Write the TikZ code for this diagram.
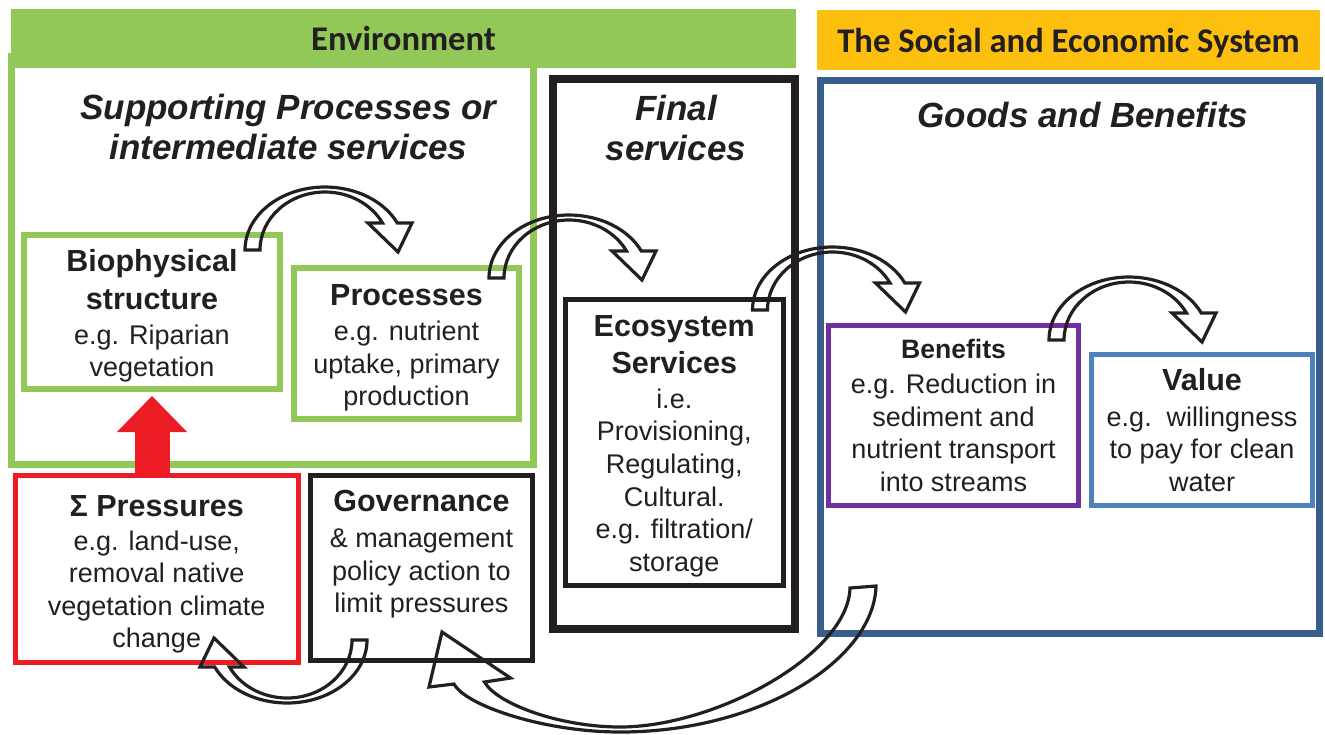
\documentclass[tikz,border=0pt]{standalone}
\usepackage{fontspec}
\setmainfont{Liberation Sans}
\newfontfamily\hdrfont{Carlito}
\usetikzlibrary{arrows.meta}

\definecolor{envgreen}{RGB}{146,200,88}
\definecolor{socyellow}{RGB}{253,192,15}
\definecolor{goodsblue}{RGB}{58,94,140}
\definecolor{presred}{RGB}{237,28,36}
\definecolor{benpurple}{RGB}{112,48,160}
\definecolor{valblue}{RGB}{79,129,189}
\definecolor{ink}{RGB}{35,31,32}

\newcommand{\hd}[1]{{\fontsize{15.25}{16.2}\selectfont\bfseries #1}}
\newcommand{\hs}[1]{{\fontsize{13.3}{16.2}\selectfont\bfseries #1}}

\tikzset{
  outerframe/.style={draw, outer sep=0pt, inner sep=0pt},
  box/.style={draw, outer sep=0pt, inner sep=0pt, align=center, text=ink,
    font=\fontsize{13.5}{16.3}\selectfont},
  areatitle/.style={align=center, inner sep=0pt, text=ink,
    font=\fontsize{17.5}{19.7}\selectfont\bfseries\itshape},
  hdr/.style={inner sep=0pt, outer sep=0pt, text depth=0pt, text=ink,
    font=\hdrfont\fontsize{17.3}{20}\selectfont\bfseries},
  hollow/.style={draw=ink, line width=1.6pt, line join=miter},
  bendarrow/.pic={
    \draw[hollow] (7.5,0) -- (-7.5,0)
      .. controls (-7.5,-34.8) and (28.3,-63) .. (72.5,-63)
      .. controls (103.4,-63) and (131.6,-49) .. (144.8,-27)
      -- (159.5,-27) -- (145.5,2) -- (115.5,-27) -- (130,-27)
      .. controls (118.8,-46) and (96.6,-58) .. (72.5,-58)
      .. controls (36.6,-58) and (7.5,-32) .. (7.5,0) -- cycle;
  },
  backarrow/.pic={
    \draw[hollow] (-13,1) -- (13,-1)
      .. controls (11,73) and (-103,145) .. (-243,145)
      .. controls (-318,145) and (-397,119) .. (-409,97)
      -- (-434,100) -- (-421,45) -- (-352.5,91) -- (-378.5,95)
      .. controls (-366,117) and (-303,140) .. (-243,140)
      .. controls (-148,140) and (-15,68) .. (-13,1) -- cycle;
  }
}

\begin{document}
\begin{tikzpicture}[x=0.5pt, y=-0.5pt]
  \useasboundingbox (0,0) rectangle (1325,734);

  % Rahmen
  \node[outerframe, draw=envgreen, line width=3.5pt, minimum width=261pt, minimum height=204pt] (env) at (272.5,260.5) {};
  \node[hdr, fill=envgreen, minimum width=392.5pt, minimum height=29.5pt] (envhdr) at (403.5,38.5) {Environment};
  \node[outerframe, draw=ink, line width=4pt, minimum width=121pt, minimum height=275pt] (fin) at (674,354) {};
  \node[hdr, fill=socyellow, minimum width=251.5pt, minimum height=30pt] (sochdr) at (1068.5,40) {The Social and Economic System};
  \node[outerframe, draw=goodsblue, line width=3.5pt, minimum width=249.5pt, minimum height=276.5pt] (goods) at (1069.5,356.5) {};

  % Titel
  \node[areatitle] (suptitle) at (288.5,127) {Supporting Processes or\\intermediate services};
  \node[areatitle] (fintitle) at (676,128) {Final\\services};
  \node[areatitle, anchor=base] (goodstitle) at (1083,127) {Goods and Benefits};

  % Kaesten
  \node[box, draw=envgreen, line width=2.75pt, minimum width=128pt, minimum height=77pt] (bio) at (152,312)
    {\rule{0pt}{15pt}\hd{Biophysical}\\[2.5pt]\hd{structure}\\[1pt]e.g. Riparian\\vegetation};
  \node[box, draw=envgreen, line width=2.75pt, minimum width=112.5pt, minimum height=75.5pt] (proc) at (406.5,343.5)
    {\rule{0pt}{15pt}\hd{Processes}\\[1pt]e.g. nutrient\\uptake, primary\\production};
  \node[box, draw=presred, line width=2.5pt, minimum width=141.75pt, minimum height=93.5pt] (pres) at (156.75,569)
    {\rule{0pt}{16pt}\hd{Σ Pressures}\\[0.5pt]e.g. land-use,\\removal native\\vegetation climate\\change};
  \node[box, draw=ink, line width=2.25pt, minimum width=111pt, minimum height=92.5pt] (gov) at (421.5,568)
    {\hd{Governance}\\[1.5pt]\& management\\policy action to\\limit pressures\\ \mbox{}};
  \node[box, draw=ink, line width=2.5pt, minimum width=109.25pt, minimum height=143pt] (eco) at (674.25,442.5)
    {\rule{0pt}{14pt}\hd{Ecosystem}\\[2.5pt]\hd{Services}\\[1pt]i.e.\\Provisioning,\\Regulating,\\Cultural.\\e.g. filtration/\\storage};
  \node[box, draw=benpurple, line width=2.5pt, minimum width=125pt, minimum height=90pt] (ben) at (953.5,415.5)
    {\hs{Benefits}\\[1pt]e.g. Reduction in\\sediment and\\nutrient transport\\into streams};
  \node[box, draw=valblue, line width=2.5pt, minimum width=110.5pt, minimum height=75.5pt] (val) at (1202,430)
    {\hd{Value}\\[1.5pt]e.g.\ \ willingness\\to pay for clean\\water};

  % Pfeile
  \draw[presred, line width=17.5pt, -{Triangle[width=35pt, length=18pt, line width=0pt]}]
    (bio.south |- pres.north) -- ([yshift=-3.5pt]bio.south);
  \pic at ([shift={(-27.5,15)}]bio.north east) {bendarrow};
  \pic at ([shift={(-22.5,10)}]proc.north east) {bendarrow};
  \pic at ([shift={(-23.5,10.5)}]eco.north east) {bendarrow};
  \pic at ([shift={(-22,14.5)}]ben.north east) {bendarrow};
  \pic[rotate=180] at ([shift={(-62,-20.5)}]gov.south) {bendarrow};
  \pic at ([shift={(43,-46)}]goods.south west) {backarrow};
\end{tikzpicture}
\end{document}
